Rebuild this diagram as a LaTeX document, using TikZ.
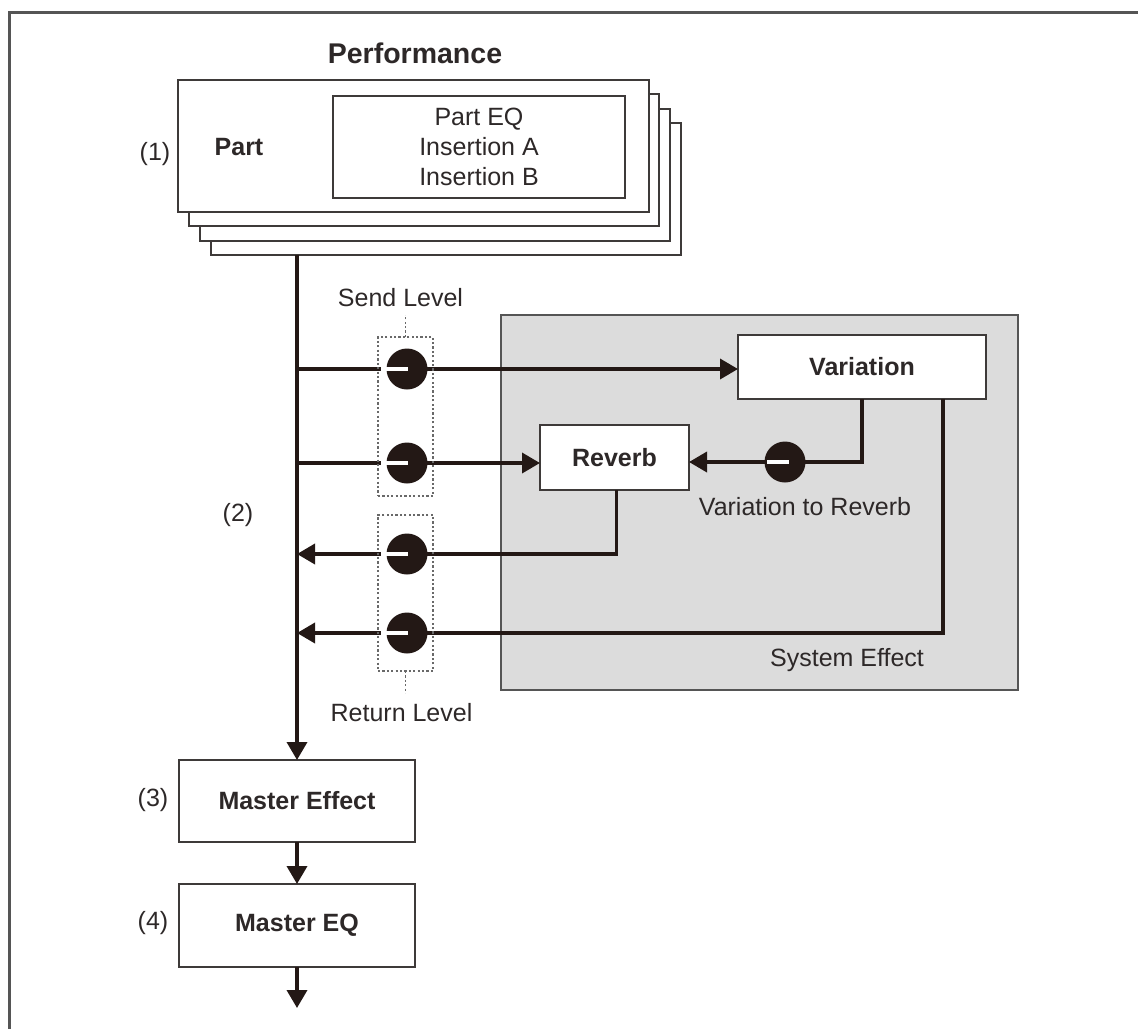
\documentclass[tikz,border=0pt]{standalone}
\usepackage{fontspec}
\setmainfont{Liberation Sans}
\usetikzlibrary{arrows.meta}
\definecolor{ink}{RGB}{35,24,21}
\definecolor{txt}{RGB}{45,40,40}
\definecolor{boxline}{RGB}{62,58,57}
\definecolor{sysfill}{RGB}{220,220,220}
\definecolor{framecol}{RGB}{85,85,85}
\definecolor{dotcol}{RGB}{105,105,105}
\begin{document}
\begin{tikzpicture}[x=1pt,y=-1pt,
  every node/.style={font=\fontsize{25}{30}\selectfont, text=txt, inner sep=0pt, outer sep=0pt},
  box/.style={draw=boxline, line width=1.8pt, fill=white, rectangle},
  flow/.style={draw=ink, line width=3.6pt},
  arr/.style={flow, -{Triangle[length=18pt,width=20pt]}},
  knob/.style={circle, fill=ink, minimum size=41pt, inner sep=0pt},
  whitebar/.style={draw=white, line width=3.6pt},
  dotbox/.style={draw=dotcol, line width=1.8pt, dash pattern=on 2.2pt off 2.2pt},
  bold/.style={font=\fontsize{25}{30}\selectfont\bfseries}]
\useasboundingbox (0,0) rectangle (1138,1029);
% outer frame (top and left)
\draw[draw=framecol, line width=3pt] (1138,12) -- (9,12) -- (9,1029);

% Performance / Part stack
\node[bold, font=\fontsize{28.5}{32}\selectfont\bfseries] (perf) at (415,53) {Performance};
\node[box, minimum width=470pt, minimum height=132pt] (part4) at (445.9,188.9) {};
\node[box, minimum width=470pt, minimum height=132pt] (part3) at (435.1,174.6) {};
\node[box, minimum width=470pt, minimum height=132pt] (part2) at (424.3,160.3) {};
\node[box, minimum width=471pt, minimum height=132pt] (part1) at (413.5,146) {};
\node[box, minimum width=292pt, minimum height=102pt, align=center] (inner) at (479,147) {Part EQ\\Insertion A\\Insertion B};
\node[bold] (partlbl) at (239,147) {Part};
\node (n1) at (155,154) {(1)};

% System effect block
\node[draw=framecol, line width=1.5pt, fill=sysfill, minimum width=517pt, minimum height=375pt] (sys) at (759.5,502.5) {};
\node[box, bold, minimum width=248pt, minimum height=64pt] (var) at (862,367) {Variation};
\node[box, bold, minimum width=149pt, minimum height=65pt] (rev) at (614.5,457.5) {Reverb};
\node (v2r) at (805,507) {Variation to Reverb};
\node (syslbl) at (847,660) {System Effect};

% master chain
\node[box, bold, minimum width=236pt, minimum height=82pt] (me) at (297,801) {Master Effect};
\node[box, bold, minimum width=236pt, minimum height=83pt] (meq) at (297,925.5) {Master EQ};
\node (n2) at (238,515) {(2)};
\node (n3) at (153,800) {(3)};
\node (n4) at (153,923) {(4)};
\coordinate (out) at (297,1008);

% bus coordinates
\coordinate (b1) at (297,369);
\coordinate (b2) at (297,463);
\coordinate (b3) at (297,554);
\coordinate (b4) at (297,633);

% main bus
\draw[arr] (me.north |- part4.south) -- (me.north);
\draw[arr] (me.south) -- (meq.north);
\draw[arr] (meq.south) -- (out);

% sends
\draw[arr] (b1) -- (var.west |- b1);
\draw[arr] (b2) -- (rev.west |- b2);
% returns
\draw[arr] ([xshift=2pt]rev.south) |- (b3);
\draw[arr] ([xshift=81pt]var.south) |- (b4);
% variation to reverb
\coordinate (vrpt) at (785,462);
\draw[arr] (var.south) |- (rev.east |- vrpt);

% knobs
\node[knob] (s1) at (407,369) {};
\node[knob] (s2) at (407,463) {};
\node[knob] (r1) at (407,554) {};
\node[knob] (r2) at (407,633) {};
\node[knob] (vr) at (vrpt) {};
\foreach \k in {s1,s2,r1,r2}{
  \draw[whitebar] ([xshift=-26pt]\k.center) -- ([xshift=1pt]\k.center);
}
\draw[whitebar] ([xshift=-18pt]vr.center) -- ([xshift=4pt]vr.center);

% dotted groups
\node[dotbox, minimum width=55pt, minimum height=159pt] (sendgrp) at (405.5,416.5) {};
\node[dotbox, minimum width=55pt, minimum height=156pt] (retgrp) at (405.5,593) {};
\draw[dotbox] (sendgrp.north) -- ++(0,-22);
\draw[dotbox] (retgrp.south) -- ++(0,22);
\node (sendlbl) at (400.5,298) {Send Level};
\node (retlbl) at (401.5,713) {Return Level};
\end{tikzpicture}
\end{document}
